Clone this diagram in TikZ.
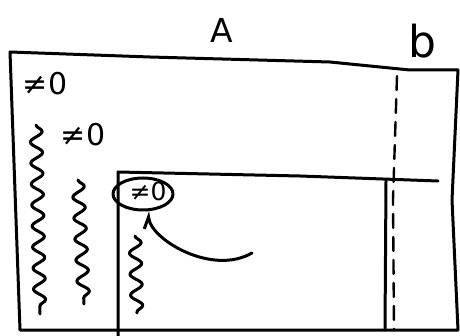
\documentclass[tikz,border=0pt]{standalone}
\usepackage{fontspec}
\setmainfont{DejaVu Sans}
\usepackage{tikz}
\usetikzlibrary{arrows.meta,shapes.geometric,decorations.pathmorphing}

\begin{document}
\begin{tikzpicture}[x=1pt,y=-1pt,
  stroke/.style={line width=3pt,line cap=round,line join=round},
  wavy/.style={stroke,decorate,decoration={snake,segment length=21pt,amplitude=6pt}},
  nz/.style={inner sep=0pt,font=\fontsize{30}{30}\selectfont}]

\useasboundingbox (0,0) rectangle (460,336);

% =========================================================
% Labels
% =========================================================
\node[inner sep=0pt,font=\fontsize{33}{33}\selectfont] (matA) at (222,30) {A};
\node[inner sep=0pt,font=\fontsize{44}{44}\selectfont] (vecb) at (422,41) {b};

% outer matrix
\draw[stroke] (10,52) -- (150,57) -- (330,62) -- (410,70) -- (458,70)
  -- (452,200) -- (458,330) -- (20,330) -- cycle;

% separator for b
\draw[stroke,line width=2.4pt,dash pattern=on 14pt off 9pt] (397,76) -- (393,200) -- (394,330);

% inner block
\draw[stroke] (118,336) -- (118,172) -- (300,176) -- (438,181);
\draw[stroke] (386,181) -- (385,330);

% =========================================================
% Nonzero entries
% =========================================================
\node[nz] (nzA) at (45,84) {≠0};
\node[nz] (nzB) at (83,135) {≠0};
\node[nz,font=\fontsize{25}{25}\selectfont] (nzC) at (148,191) {≠0};
\node[stroke,draw,ellipse,minimum width=60pt,minimum height=32pt] (ring) at (143,194) {};

% columns below the pivots
\draw[wavy] (36,125) -- (40,314);
\draw[wavy] (78,180) -- (84,304);
\draw[wavy] (135,236) -- (137,313);

% pointer to the circled entry
\coordinate (tail) at (252,253);
\draw[stroke,-{Straight Barb[left,length=11pt,width=12pt]}] (tail) .. controls (212,276) and (152,240) .. (ring.-75);

\end{tikzpicture}
\end{document}
